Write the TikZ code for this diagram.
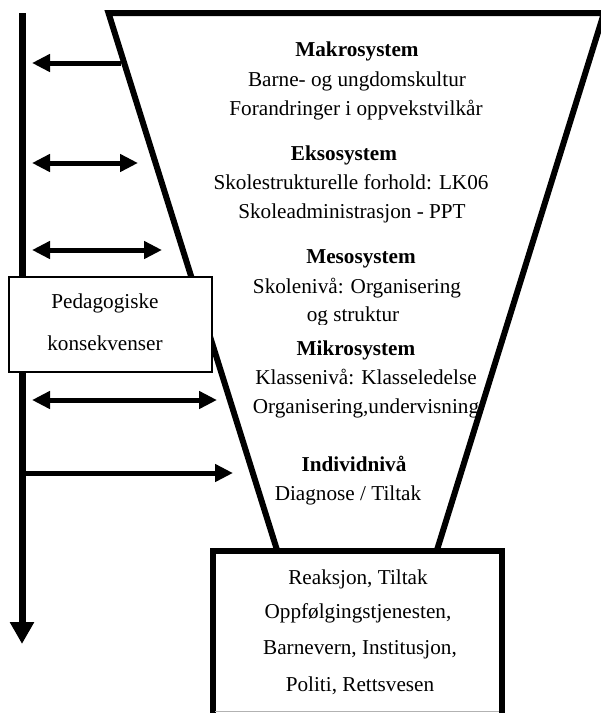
\documentclass[tikz,border=0pt]{standalone}
\usepackage{fontspec}
\setmainfont{Liberation Serif}
\usetikzlibrary{arrows.meta}
\begin{document}
\begin{tikzpicture}[x=1pt,y=-1pt,
  txt/.style={inner sep=0pt, anchor=base, font=\fontsize{21.2}{25}\selectfont},
  hdr/.style={inner sep=0pt, anchor=base, font=\fontsize{21.2}{25}\selectfont\bfseries},
  funnelline/.style={line width=6pt, miter limit=20},
  sarrow/.style={line width=5pt, -{Triangle[length=18pt,width=17pt]}},
  darrow/.style={line width=5pt, {Triangle[length=18pt,width=17pt]}-{Triangle[length=18pt,width=17pt]}},
  vline/.style={line width=7pt, -{Triangle[length=22pt,width=23pt]}},
  pedbox/.style={draw, line width=1.5pt, fill=white, minimum width=203pt, minimum height=95pt, inner sep=0pt},
]
\useasboundingbox (0,0) rectangle (601,713);

% funnel
\coordinate (fl) at (277,550);
\coordinate (ftl) at (108.5,13);
\coordinate (ftr) at (604,13);
\coordinate (fr) at (437,550);
\draw[funnelline] (fl) -- (ftl) -- (ftr) -- (fr);

% bottom box
\coordinate (bbl) at (212.5,720);
\coordinate (btl) at (212.5,551);
\coordinate (btr) at (502,551);
\coordinate (bbr) at (502,720);
\draw[line width=6pt, fill=white] (bbl) -- (btl) -- (btr) -- (bbr);
\coordinate (gl) at (215,711.5);
\coordinate (gr) at (499,711.5);
\draw[gray!60, line width=1pt] (gl) -- (gr);

% vertical arrow
\coordinate (vtop) at (22,13);
\coordinate (vbot) at (22,644);
\draw[vline] (vtop) -- (vbot);

% horizontal arrows
\coordinate (a1s) at (121,63);  \coordinate (a1e) at (32,63);
\coordinate (a2s) at (32,163);  \coordinate (a2e) at (138,163);
\coordinate (a3s) at (32,250);  \coordinate (a3e) at (162,250);
\coordinate (a4s) at (32,400);  \coordinate (a4e) at (217,400);
\coordinate (a5s) at (22,473);  \coordinate (a5e) at (233,473);
\draw[sarrow] (a1s) -- (a1e);
\draw[darrow] (a2s) -- (a2e);
\draw[darrow] (a3s) -- (a3e);
\draw[darrow] (a4s) -- (a4e);
\draw[sarrow] (a5s) -- (a5e);

% pedagogiske box
\node[pedbox] (ped) at (110.5,324.5) {};
\node[txt] (ped1) at (105,308.3) {Pedagogiske};
\node[txt] (ped2) at (105,350) {konsekvenser};

% funnel texts
\node[hdr] (mak) at (357,56.7) {Makrosystem};
\node[txt] (mak1) at (357,86) {Barne- og ungdomskultur};
\node[txt] (mak2) at (356,115) {Forandringer i oppvekstvilkår};

\node[hdr] (eks) at (344,160.7) {Eksosystem};
\node[txt] (eks1) at (351,189.3) {Skolestrukturelle forhold: LK06};
\node[txt] (eks2) at (352,218.3) {Skoleadministrasjon - PPT};

\node[hdr] (mes) at (361,263.3) {Mesosystem};
\node[txt] (mes1) at (357,293.3) {Skolenivå: Organisering};
\begin{scope}
\clip (280,295) rectangle (430,324);
\node[txt] (mes2) at (353,321.7) {og struktur};
\end{scope}

\node[hdr] (mik) at (356,355) {Mikrosystem};
\node[txt] (mik1) at (366,384) {Klassenivå: Klasseledelse};
\node[txt] (mik2) at (366,413.3) {Organisering,undervisning};

\node[hdr] (ind) at (354,471.7) {Individnivå};
\node[txt] (ind1) at (348,500.7) {Diagnose / Tiltak};

% bottom box texts
\node[txt] (r1) at (358,584.3) {Reaksjon, Tiltak};
\node[txt] (r2) at (358,618.3) {Oppfølgingstjenesten,};
\node[txt] (r3) at (360,654) {Barnevern, Institusjon,};
\node[txt] (r4) at (360,691.7) {Politi, Rettsvesen};
\end{tikzpicture}
\end{document}
